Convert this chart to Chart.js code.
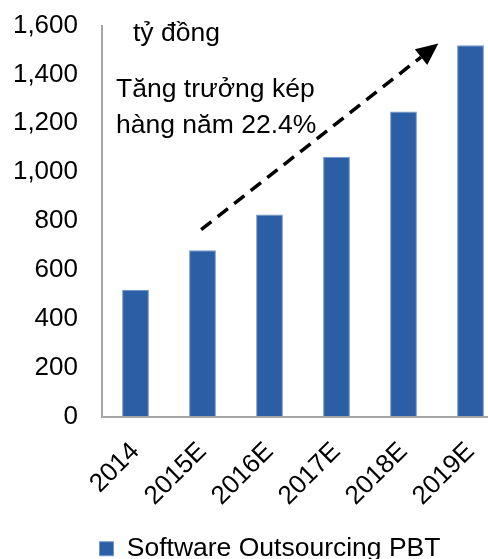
<!DOCTYPE html>
<html>
<head>
<meta charset="utf-8">
<script src="https://cdn.jsdelivr.net/npm/chart.js@4"></script>
<style>
    html, body { margin: 0; padding: 0; background: #fff; overflow: hidden; }
    body { width: 488px; height: 559px; }
    #chart { display: block; margin-top: -14px; }
</style>
</head>
<body>
<canvas id="chart" width="540" height="586"></canvas>
<script>
const years = ['2014', '2015E', '2016E', '2017E', '2018E', '2019E'];
const pbt = [518, 680, 827, 1063, 1248, 1520];
const seriesName = 'Software Outsourcing PBT';
const unitLabel = 'tỷ đồng';
const cagrLines = ['Tăng trưởng kép', 'hàng năm 22.4%'];

const FONT = '"Liberation Sans", Arial, sans-serif';
Chart.defaults.color = '#000';
Chart.defaults.font.family = FONT;

// dashed trend arrow + the two text notes
const notes = {
    id: 'notes',
    afterDraw(chart) {
        const { ctx, chartArea, scales: { x, y } } = chart;
        ctx.save();
        ctx.fillStyle = '#000';
        ctx.font = '26.5px ' + FONT;
        ctx.textBaseline = 'middle';
        ctx.fillText(unitLabel, chartArea.left + 31, chartArea.top + 8);
        ctx.fillText(cagrLines[0], chartArea.left + 14, chartArea.top + 64);
        ctx.fillText(cagrLines[1], chartArea.left + 14, chartArea.top + 100);

        const x0 = x.getPixelForValue(0.98), y0 = y.getPixelForValue(765);
        const x1 = x.getPixelForValue(4.52), y1 = y.getPixelForValue(1527);
        const ang = Math.atan2(y1 - y0, x1 - x0);
        const head = 22;
        const bx = x1 - head * Math.cos(ang), by = y1 - head * Math.sin(ang);

        ctx.strokeStyle = '#000';
        ctx.lineWidth = 3.5;
        ctx.setLineDash([13, 8]);
        ctx.beginPath();
        ctx.moveTo(x0, y0);
        ctx.lineTo(bx, by);
        ctx.stroke();
        ctx.setLineDash([]);

        ctx.beginPath();
        ctx.moveTo(x1, y1);
        ctx.lineTo(bx + 10 * Math.sin(ang), by - 10 * Math.cos(ang));
        ctx.lineTo(bx - 10 * Math.sin(ang), by + 10 * Math.cos(ang));
        ctx.closePath();
        ctx.fill();
        ctx.restore();
    }
};

new Chart(document.getElementById('chart'), {
    type: 'bar',
    data: {
        labels: years,
        datasets: [{
            label: seriesName,
            data: pbt,
            backgroundColor: '#2A5EA5',
            borderColor: '#7596c9',
            borderWidth: 1,
            barPercentage: 0.4,
            categoryPercentage: 1
        }]
    },
    options: {
        responsive: false,
        animation: false,
        layout: { padding: { top: 10, right: 0, left: 0, bottom: 0 } },
        plugins: {
            tooltip: { enabled: false },
            legend: {
                position: 'bottom',
                labels: {
                    boxWidth: 14,
                    boxHeight: 14,
                    padding: 2,
                    font: { size: 26.5 }
                }
            }
        },
        scales: {
            x: {
                grid: { drawOnChartArea: false, drawTicks: false },
                border: { color: '#a6a6a6', width: 2 },
                ticks: {
                    font: { size: 26 },
                    maxRotation: 45,
                    minRotation: 45,
                    padding: 20
                },
                afterFit(scale) { scale.height = 117; }
            },
            y: {
                min: 0,
                max: 1600,
                grid: { drawOnChartArea: false, drawTicks: false },
                border: { color: '#a6a6a6', width: 2 },
                ticks: {
                    stepSize: 200,
                    font: { size: 26 },
                    padding: 24,
                    callback: (v) => v.toLocaleString('en-US')
                },
                afterFit(scale) { scale.width = 102; }
            },
            // empty right-hand spacer so the plot runs past the window edge
            spacer: {
                type: 'linear',
                position: 'right',
                display: true,
                grid: { display: false },
                border: { display: false },
                ticks: { display: false },
                afterFit(scale) { scale.width = 36; }
            }
        }
    },
    plugins: [notes]
});
</script>
</body>
</html>
